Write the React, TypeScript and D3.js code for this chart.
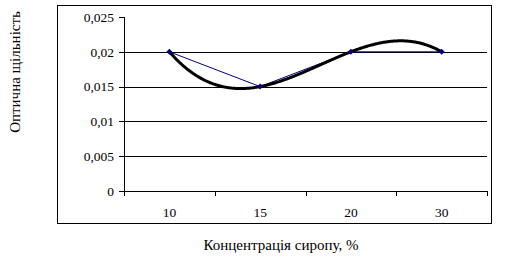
import React from "react";
import * as d3 from "d3";

const categories = ["10", "15", "20", "30"];
const values = [0.02, 0.015, 0.02, 0.02];
const yTicks = [0, 0.005, 0.01, 0.015, 0.02, 0.025];
const yTickLabels = ["0", "0,005", "0,01", "0,015", "0,02", "0,025"];

// Least-squares polynomial trendline (order 3) derived from the data
function polyFit(xs: number[], ys: number[], order: number): number[] {
  const n = order + 1;
  const A: number[][] = [];
  for (let i = 0; i < n; i++) {
    A.push([]);
    for (let j = 0; j < n; j++) {
      A[i].push(d3.sum(xs, (x) => Math.pow(x, i + j)));
    }
    A[i].push(d3.sum(xs.map((x, k) => Math.pow(x, i) * ys[k])));
  }
  for (let i = 0; i < n; i++) {
    let p = i;
    for (let r = i + 1; r < n; r++) if (Math.abs(A[r][i]) > Math.abs(A[p][i])) p = r;
    [A[i], A[p]] = [A[p], A[i]];
    for (let r = 0; r < n; r++) {
      if (r === i) continue;
      const f = A[r][i] / A[i][i];
      for (let c = i; c <= n; c++) A[r][c] -= f * A[i][c];
    }
  }
  return A.map((row, i) => row[n] / row[i]);
}

export default function App() {
  const W = 507, H = 260;
  const left = 124, right = 487, top = 17, bottom = 191;
  const x = d3.scaleBand().domain(categories).range([left, right]);
  const y = d3.scaleLinear().domain([0, 0.025]).range([bottom, top]);
  const cx = (i: number) => (x(categories[i]) as number) + x.bandwidth() / 2;

  const idx = values.map((_, i) => i + 1);
  const coef = polyFit(idx, values, 3);
  const evalPoly = (t: number) => coef.reduce((s, c, k) => s + c * Math.pow(t, k), 0);
  const trendPts: [number, number][] = d3.range(0, 301).map((k) => {
    const t = 1 + (3 * k) / 300;
    const px = cx(0) + (t - 1) * x.bandwidth();
    return [px, y(evalPoly(t))];
  });
  const line = d3.line<[number, number]>();
  const dataPts: [number, number][] = values.map((v, i) => [cx(i), y(v)]);

  const font = "Liberation Serif, Times New Roman, serif";
  const boundaries = d3.range(categories.length + 1).map((i) => left + i * x.bandwidth());

  return (
    <svg width={W} height={H} style={{ position: "absolute", left: 0, top: 0, fontFamily: font }}>
      <rect x={0} y={0} width={W} height={H} fill="#fff" />
      <rect x={57.5} y={5.5} width={434} height={218} fill="none" stroke="#000" strokeWidth={1} />
      {yTicks.slice(1, -1).map((t) => (
        <line key={t} x1={left} x2={right} y1={Math.round(y(t)) + 0.5} y2={Math.round(y(t)) + 0.5} stroke="#000" />
      ))}
      <line x1={left + 0.5} x2={left + 0.5} y1={top} y2={bottom + 0.5} stroke="#000" />
      <line x1={left} x2={right + 0.5} y1={bottom + 0.5} y2={bottom + 0.5} stroke="#000" />
      {yTicks.map((t, i) => (
        <g key={t}>
          <line x1={left - 5} x2={left} y1={Math.round(y(t)) + 0.5} y2={Math.round(y(t)) + 0.5} stroke="#000" />
          <text x={left - 10} y={y(t)} dy="0.35em" textAnchor="end" fontSize={13.5}>{yTickLabels[i]}</text>
        </g>
      ))}
      {boundaries.map((b, i) => (
        <line key={i} x1={Math.round(b) + 0.5} x2={Math.round(b) + 0.5} y1={bottom} y2={bottom + 5} stroke="#000" />
      ))}
      {categories.map((c, i) => (
        <text key={c} x={cx(i)} y={212} dy="0.35em" textAnchor="middle" fontSize={13.5}>{c}</text>
      ))}
      <path d={line(dataPts) || ""} fill="none" stroke="#000080" strokeWidth={1} />
      <path d={line(trendPts) || ""} fill="none" stroke="#000" strokeWidth={3} strokeLinecap="round" />
      {dataPts.map(([px, py], i) => (
        <path key={i} d={`M${px},${py - 3}L${px + 3},${py}L${px},${py + 3}L${px - 3},${py}Z`} fill="#000080" />
      ))}
      <text x={281} y={245} dy="0.35em" textAnchor="middle" fontSize={15}>Концентрація сиропу, %</text>
      <text transform={`translate(15,72) rotate(-90)`} dy="0.35em" textAnchor="middle" fontSize={15}>Оптична щільність</text>
    </svg>
  );
}
